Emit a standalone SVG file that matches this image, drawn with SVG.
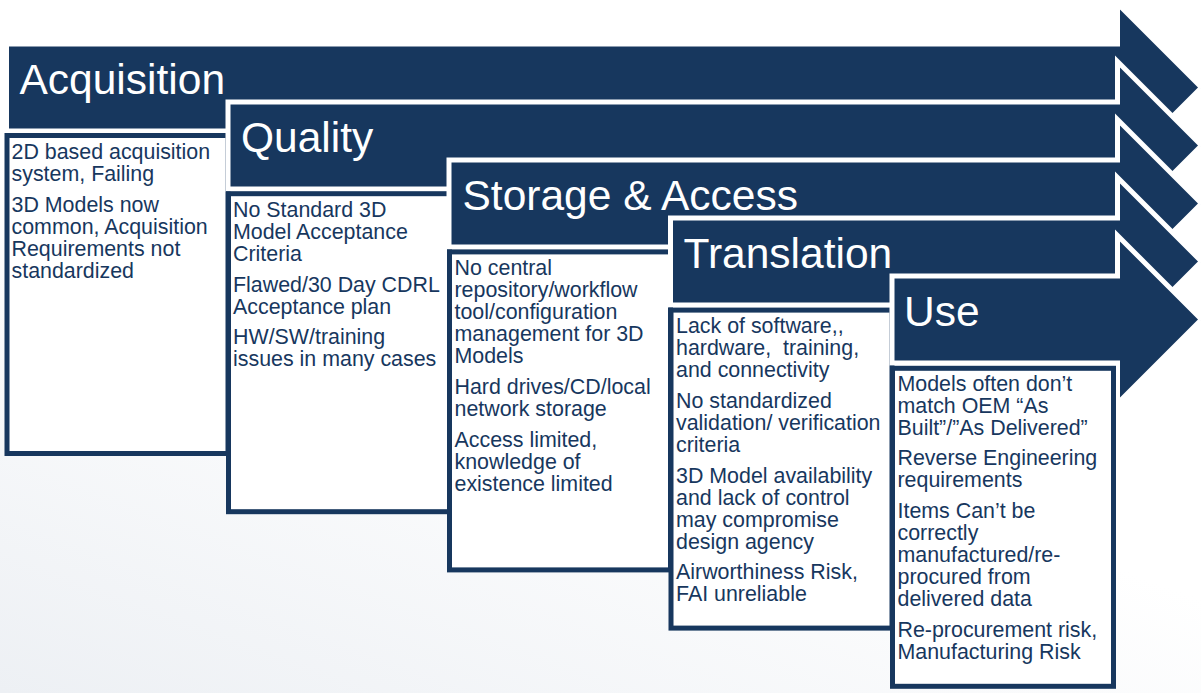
<svg xmlns="http://www.w3.org/2000/svg" width="1201" height="693" viewBox="0 0 1201 693">
<defs>
<linearGradient id="bg" x1="0" y1="1" x2="0.35" y2="0.45">
<stop offset="0" stop-color="#edf0f4"/>
<stop offset="1" stop-color="#ffffff"/>
</linearGradient>
<style>
.arrow{fill:#17375e;stroke:#ffffff;stroke-width:5;stroke-linejoin:miter}
.box{fill:#ffffff;stroke:#17375e;stroke-width:5}
.title{font-family:"Liberation Sans",Arial,sans-serif;font-size:42.5px;fill:#ffffff}
.body{font-family:"Liberation Sans",Arial,sans-serif;font-size:21.4px;fill:#17375e}
</style>
</defs>
<rect x="0" y="0" width="1201" height="693" fill="url(#bg)"/>

<g id="acquisition">
<path class="arrow" d="M6.5,44 H1117.5 V3.5 L1201.5,87.5 L1117.5,171.5 V131 H6.5 Z"/>
<text class="title" x="19.5" y="93.5">Acquisition</text>
<rect class="box" x="7" y="135.5" width="221" height="318"/>
<text class="body">
<tspan x="11.5" y="159.3">2D based acquisition</tspan>
<tspan x="11.5" y="181.3">system, Failing</tspan>
<tspan x="11.5" y="212.1">3D Models now</tspan>
<tspan x="11.5" y="234.1">common, Acquisition</tspan>
<tspan x="11.5" y="256.1">Requirements not</tspan>
<tspan x="11.5" y="278.1">standardized</tspan>
</text>
</g>

<g id="quality">
<path class="arrow" d="M228,102 H1117.5 V61.5 L1201.5,145.5 L1117.5,229.5 V189 H228 Z"/>
<text class="title" x="241" y="151.5">Quality</text>
<rect class="box" x="228.5" y="193.7" width="221" height="318"/>
<text class="body">
<tspan x="233" y="216.7">No Standard 3D</tspan>
<tspan x="233" y="238.7">Model Acceptance</tspan>
<tspan x="233" y="260.7">Criteria</tspan>
<tspan x="233" y="291.5">Flawed/30 Day CDRL</tspan>
<tspan x="233" y="313.5">Acceptance plan</tspan>
<tspan x="233" y="344.3">HW/SW/training</tspan>
<tspan x="233" y="366.3">issues in many cases</tspan>
</text>
</g>

<g id="storage-access">
<path class="arrow" d="M449,160 H1117.5 V119.5 L1201.5,203.5 L1117.5,287.5 V247 H449 Z"/>
<text class="title" x="462.5" y="209.5">Storage &amp; Access</text>
<rect class="box" x="449.5" y="251.9" width="221" height="318"/>
<text class="body">
<tspan x="454.5" y="275">No central</tspan>
<tspan x="454.5" y="297">repository/workflow</tspan>
<tspan x="454.5" y="319">tool/configuration</tspan>
<tspan x="454.5" y="341">management for 3D</tspan>
<tspan x="454.5" y="363">Models</tspan>
<tspan x="454.5" y="393.8">Hard drives/CD/local</tspan>
<tspan x="454.5" y="415.8">network storage</tspan>
<tspan x="454.5" y="446.6">Access limited,</tspan>
<tspan x="454.5" y="468.6">knowledge of</tspan>
<tspan x="454.5" y="490.6">existence limited</tspan>
</text>
</g>

<g id="translation">
<path class="arrow" d="M670.5,218 H1117.5 V177.5 L1201.5,261.5 L1117.5,345.5 V305 H670.5 Z"/>
<text class="title" x="683.5" y="267.5">Translation</text>
<rect class="box" x="671" y="310.1" width="221" height="318"/>
<text class="body">
<tspan x="676" y="333">Lack of software,,</tspan>
<tspan x="676" y="355">hardware,&#160; training,</tspan>
<tspan x="676" y="377">and connectivity</tspan>
<tspan x="676" y="407.8">No standardized</tspan>
<tspan x="676" y="429.8">validation/ verification</tspan>
<tspan x="676" y="451.8">criteria</tspan>
<tspan x="676" y="482.6">3D Model availability</tspan>
<tspan x="676" y="504.6">and lack of control</tspan>
<tspan x="676" y="526.6">may compromise</tspan>
<tspan x="676" y="548.6">design agency</tspan>
<tspan x="676" y="579.4">Airworthiness Risk,</tspan>
<tspan x="676" y="601.4">FAI unreliable</tspan>
</text>
</g>

<g id="use">
<path class="arrow" d="M892,276 H1117.5 V235.5 L1201.5,319.5 L1117.5,403.5 V363 H892 Z"/>
<text class="title" x="904" y="325.5">Use</text>
<rect class="box" x="892.5" y="368.3" width="221" height="318"/>
<text class="body">
<tspan x="897.5" y="390.5">Models often don’t</tspan>
<tspan x="897.5" y="412.5">match OEM “As</tspan>
<tspan x="897.5" y="434.5">Built”/”As Delivered”</tspan>
<tspan x="897.5" y="465.3">Reverse Engineering</tspan>
<tspan x="897.5" y="487.3">requirements</tspan>
<tspan x="897.5" y="518.1">Items Can’t be</tspan>
<tspan x="897.5" y="540.1">correctly</tspan>
<tspan x="897.5" y="562.1">manufactured/re-</tspan>
<tspan x="897.5" y="584.1">procured from</tspan>
<tspan x="897.5" y="606.1">delivered data</tspan>
<tspan x="897.5" y="636.9">Re-procurement risk,</tspan>
<tspan x="897.5" y="658.9">Manufacturing Risk</tspan>
</text>
</g>

<g id="connectors"/>
</svg>
